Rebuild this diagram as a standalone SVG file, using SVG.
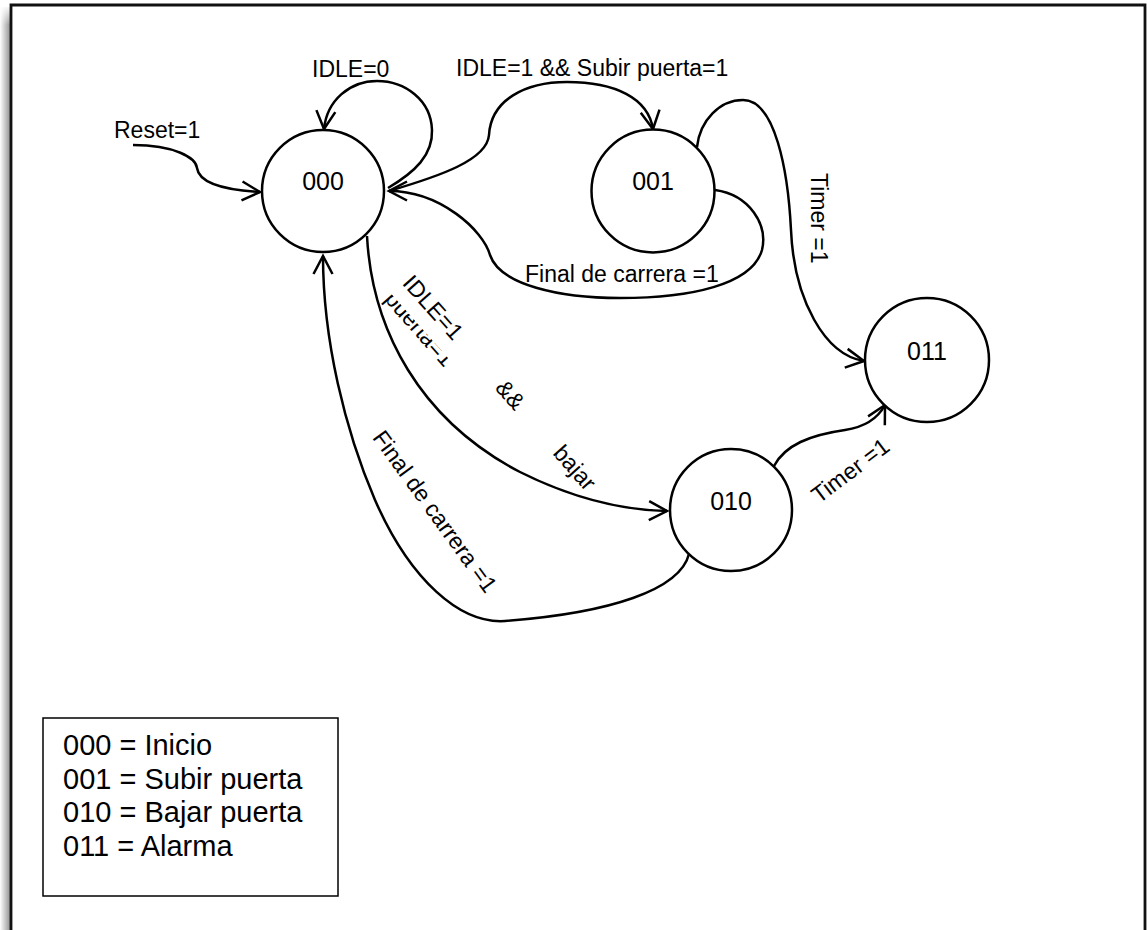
<svg xmlns="http://www.w3.org/2000/svg" width="1147" height="930" viewBox="0 0 1147 930">
  <style>
    .node circle { fill: #fff; stroke: #000; stroke-width: 2.5; }
    .node text { font-family: "Liberation Sans", Arial, sans-serif; font-size: 25px; fill: #000; text-anchor: middle; }
    .edge { fill: none; stroke: #000; stroke-width: 2.5; }
    .arrow { marker-end: url(#arrow); }
    .lbl { font-family: "Liberation Sans", Arial, sans-serif; font-size: 23px; fill: #000; }
    .legend text { font-family: "Liberation Sans", Arial, sans-serif; font-size: 29px; fill: #000; }
  </style>
  <defs>
    <marker id="arrow" markerUnits="userSpaceOnUse" markerWidth="40" markerHeight="40" viewBox="-20 -20 40 40" refX="0" refY="0" orient="auto" overflow="visible">
      <path d="M-18,-9.5 L0,0 L-18,9.5" fill="none" stroke="#000" stroke-width="2.5"/>
    </marker>
    <linearGradient id="shade" x1="0" y1="0" x2="1" y2="0">
      <stop offset="0" stop-color="#ffffff"/>
      <stop offset="1" stop-color="#8a8a8a"/>
    </linearGradient>
    <linearGradient id="shadeTop" x1="0" y1="0" x2="0" y2="1">
      <stop offset="0" stop-color="#ffffff" stop-opacity="1"/>
      <stop offset="1" stop-color="#ffffff" stop-opacity="0"/>
    </linearGradient>
    <clipPath id="lowerHalf">
      <rect x="-5" y="14.5" width="140" height="30"/>
    </clipPath>
  </defs>

  <!-- page background, frame and its soft left shadow -->
  <rect x="0" y="0" width="1147" height="930" fill="#fff"/>
  <rect x="0" y="7" width="11" height="923" fill="url(#shade)"/>
  <rect x="0" y="5" width="11" height="20" fill="url(#shadeTop)"/>
  <path d="M11,931 V5 H1145 V931" fill="none" stroke="#111" stroke-width="2.8"/>

  <!-- transitions -->
  <g id="connectors">
    <path class="edge arrow" d="M133,145 C175,145 196,158 197,168 C199,183 225,190 260,192"/>
    <path class="edge arrow" d="M388,188 C415,172 433,155 432,130 C431,100 405,81 377,81 C350,81 327,100 324,129"/>
    <path class="edge arrow" d="M389,191 C440,176 487,160 489,135 C491,100 525,82 567,82 C615,82 648,98 653,129"/>
    <path class="edge arrow" d="M715,190 C750,195 768,225 762,250 C752,285 690,298 620,298 C560,298 500,285 490,255 C483,230 440,191 389,191"/>
    <path class="edge arrow" d="M697,147 C700,120 720,100 743,100 C775,100 788,170 791,230 C794,300 825,355 864,361"/>
    <path class="edge arrow" d="M367,236 C372,330 420,420 520,472 C570,497 620,510 667,511"/>
    <path class="edge arrow" d="M689,554 C680,590 610,613 505,621 C460,624 410,580 375,500 C345,430 323,340 323,256"/>
    <path class="edge arrow" d="M774,466 C785,445 810,435 845,430 C865,427 878,418 885,405"/>

    <text class="lbl" x="114" y="138">Reset=1</text>
    <text class="lbl" x="312" y="77">IDLE=0</text>
    <text class="lbl" x="456" y="76">IDLE=1 &amp;&amp; Subir puerta=1</text>
    <text class="lbl" x="525" y="282">Final de carrera =1</text>
    <text class="lbl" transform="translate(811,173) rotate(90)">Timer =1</text>
    <g transform="translate(401.6,283.7) rotate(48.5)">
      <text class="lbl" x="0" y="0">IDLE=1</text>
      <text class="lbl" x="140" y="0">&amp;&amp;</text>
      <text class="lbl" x="227" y="0">bajar</text>
      <text class="lbl" x="0" y="24" clip-path="url(#lowerHalf)">puerta=1</text>
    </g>
    <text class="lbl" transform="translate(371.7,437.7) rotate(54)">Final de carrera =1</text>
    <text class="lbl" transform="translate(819,504) rotate(-37)">Timer =1</text>
  </g>

  <!-- states -->
  <g id="s000" class="node">
    <circle cx="323" cy="191" r="61"/>
    <text x="323" y="190">000</text>
  </g>
  <g id="s001" class="node">
    <circle cx="653" cy="191" r="61.5"/>
    <text x="653" y="190">001</text>
  </g>
  <g id="s011" class="node">
    <circle cx="927" cy="360" r="62"/>
    <text x="927" y="360">011</text>
  </g>
  <g id="s010" class="node">
    <circle cx="731" cy="510" r="61"/>
    <text x="731" y="510">010</text>
  </g>

  <!-- state code legend -->
  <g id="legend" class="legend">
    <rect x="43" y="718" width="295" height="178" fill="#fff" stroke="#000" stroke-width="1.5"/>
    <text x="63" y="755">000 = Inicio</text>
    <text x="63" y="788.5">001 = Subir puerta</text>
    <text x="63" y="822">010 = Bajar puerta</text>
    <text x="63" y="855.5">011 = Alarma</text>
  </g>
</svg>
